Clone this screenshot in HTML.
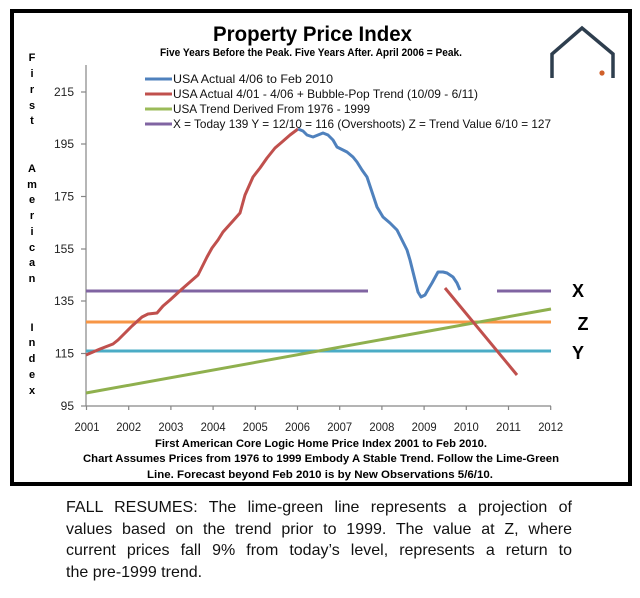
<!DOCTYPE html>
<html><head><meta charset="utf-8">
<style>
html,body{margin:0;padding:0;background:#fff;}
body{width:640px;height:598px;position:relative;overflow:hidden;}
svg{position:absolute;left:0;top:0;}
.p{position:absolute;left:66px;width:506px;font-family:"Liberation Sans",sans-serif;font-size:16px;color:#111;text-align:justify;text-align-last:justify;line-height:20px;}
</style></head>
<body>
<svg width="640" height="598" viewBox="0 0 640 598" xmlns="http://www.w3.org/2000/svg" font-family="Liberation Sans, sans-serif">
  <rect x="12" y="11" width="618" height="473" fill="#fff" stroke="#000" stroke-width="4"/>
  <!-- title -->
  <text x="312.5" y="41" font-size="21" font-weight="bold" text-anchor="middle" textLength="199" lengthAdjust="spacingAndGlyphs" fill="#000">Property Price Index</text>
  <text x="311" y="56" font-size="11" font-weight="bold" text-anchor="middle" textLength="302" lengthAdjust="spacingAndGlyphs" fill="#000">Five Years Before the Peak. Five Years After. April 2006 = Peak.</text>
  <!-- house icon -->
  <polyline points="552,78 552,54 582,28 613,54 613,78" fill="none" stroke="#2e3e4e" stroke-width="3.5" stroke-linejoin="miter"/>
  <circle cx="602" cy="73" r="2.6" fill="#d0602a"/>
  <!-- vertical label -->
  <g font-size="11" font-weight="bold" text-anchor="middle" fill="#000">
    <text x="32" y="61">F</text><text x="32" y="77">i</text><text x="32" y="93">r</text><text x="32" y="109">s</text><text x="32" y="124">t</text>
    <text x="32" y="172">A</text><text x="32" y="188">m</text><text x="32" y="203">e</text><text x="32" y="219">r</text><text x="32" y="235">i</text><text x="32" y="251">c</text><text x="32" y="266">a</text><text x="32" y="282">n</text>
    <text x="32" y="331">I</text><text x="32" y="346">n</text><text x="32" y="362">d</text><text x="32" y="378">e</text><text x="32" y="394">x</text>
  </g>
  <!-- axes -->
  <g stroke="#868686" stroke-width="1.2">
    <line x1="86" y1="65" x2="86" y2="406"/>
    <line x1="86" y1="406" x2="551" y2="406"/>
    <line x1="81" y1="92" x2="86" y2="92"/>
    <line x1="81" y1="144" x2="86" y2="144"/>
    <line x1="81" y1="196.5" x2="86" y2="196.5"/>
    <line x1="81" y1="249" x2="86" y2="249"/>
    <line x1="81" y1="301" x2="86" y2="301"/>
    <line x1="81" y1="353.5" x2="86" y2="353.5"/>
    <line x1="81" y1="406" x2="86" y2="406"/>
    <line x1="86.5" y1="406" x2="86.5" y2="410"/>
    <line x1="128.7" y1="406" x2="128.7" y2="410"/>
    <line x1="170.9" y1="406" x2="170.9" y2="410"/>
    <line x1="213.1" y1="406" x2="213.1" y2="410"/>
    <line x1="255.3" y1="406" x2="255.3" y2="410"/>
    <line x1="297.5" y1="406" x2="297.5" y2="410"/>
    <line x1="339.7" y1="406" x2="339.7" y2="410"/>
    <line x1="381.9" y1="406" x2="381.9" y2="410"/>
    <line x1="424.1" y1="406" x2="424.1" y2="410"/>
    <line x1="466.3" y1="406" x2="466.3" y2="410"/>
    <line x1="508.5" y1="406" x2="508.5" y2="410"/>
    <line x1="550.7" y1="406" x2="550.7" y2="410"/>
  </g>
  <g font-size="12" text-anchor="end" fill="#222">
    <text x="74" y="96">215</text>
    <text x="74" y="148">195</text>
    <text x="74" y="200.5">175</text>
    <text x="74" y="253">155</text>
    <text x="74" y="305">135</text>
    <text x="74" y="357.5">115</text>
    <text x="74" y="410">95</text>
  </g>
  <g font-size="12" text-anchor="middle" fill="#222">
    <text x="87" y="431" textLength="25" lengthAdjust="spacingAndGlyphs">2001</text>
    <text x="128.7" y="431" textLength="25" lengthAdjust="spacingAndGlyphs">2002</text>
    <text x="170.9" y="431" textLength="25" lengthAdjust="spacingAndGlyphs">2003</text>
    <text x="213.1" y="431" textLength="25" lengthAdjust="spacingAndGlyphs">2004</text>
    <text x="255.3" y="431" textLength="25" lengthAdjust="spacingAndGlyphs">2005</text>
    <text x="297.5" y="431" textLength="25" lengthAdjust="spacingAndGlyphs">2006</text>
    <text x="339.7" y="431" textLength="25" lengthAdjust="spacingAndGlyphs">2007</text>
    <text x="381.9" y="431" textLength="25" lengthAdjust="spacingAndGlyphs">2008</text>
    <text x="424.1" y="431" textLength="25" lengthAdjust="spacingAndGlyphs">2009</text>
    <text x="466.3" y="431" textLength="25" lengthAdjust="spacingAndGlyphs">2010</text>
    <text x="508.5" y="431" textLength="25" lengthAdjust="spacingAndGlyphs">2011</text>
    <text x="550.7" y="431" textLength="25" lengthAdjust="spacingAndGlyphs">2012</text>
  </g>
  <!-- captions -->
  <g font-size="11" font-weight="bold" text-anchor="middle" fill="#000">
    <text x="321" y="447" textLength="332" lengthAdjust="spacingAndGlyphs">First American Core Logic Home Price Index 2001 to Feb 2010.</text>
    <text x="321" y="462" textLength="476" lengthAdjust="spacingAndGlyphs">Chart Assumes Prices from 1976 to 1999 Embody A Stable Trend. Follow the Lime-Green</text>
    <text x="320" y="478" textLength="346" lengthAdjust="spacingAndGlyphs">Line. Forecast beyond Feb 2010 is by New Observations 5/6/10.</text>
  </g>
  <!-- horizontal reference lines -->
  <g stroke-width="3" fill="none" stroke-linecap="butt">
    <line x1="86" y1="351" x2="551" y2="351" stroke="#4BACC6"/>
    <line x1="86" y1="322" x2="551" y2="322" stroke="#F79646"/>
    <line x1="86" y1="291" x2="368" y2="291" stroke="#8064A2"/>
    <line x1="497" y1="291" x2="551" y2="291" stroke="#8064A2"/>
    <line x1="86" y1="393" x2="551" y2="309" stroke="#8FB04E"/>
  </g>
  <!-- red series -->
  <polyline fill="none" stroke="#C0504D" stroke-width="3" stroke-linejoin="round" points="86,355 100,349 113,344 118,340 123,335 132,326 142,317 148,314 157,313 163,306 170,300 182,289 190,282 198,275 203,265 207,257 212,248 218,240 223,232 232,222 240,213 245,195 253,177 260,168 267,158 275,148 282,142 290,135 298,129"/>
  <line x1="445" y1="288" x2="517" y2="375" stroke="#C0504D" stroke-width="3"/>
  <!-- blue series -->
  <polyline fill="none" stroke="#4F81BD" stroke-width="3" stroke-linejoin="round" points="298,129 303,131 307,135 313,137 318,135 323,133 328,135 333,140 337,147 347,152 353,157 357,162 362,170 367,177 372,192 377,207 383,217 390,223 397,230 402,240 407,250 410,260 413,272 415,280 418,292 421,297 425,295 429,288 432,283 438,272 443,272 447,273 453,277 457,283 460,290"/>
  <!-- legend -->
  <g stroke-width="3">
    <line x1="145" y1="79" x2="172" y2="79" stroke="#4F81BD"/>
    <line x1="145" y1="94" x2="172" y2="94" stroke="#C0504D"/>
    <line x1="145" y1="109" x2="172" y2="109" stroke="#9BBB59"/>
    <line x1="145" y1="124" x2="172" y2="124" stroke="#8064A2"/>
  </g>
  <g font-size="12" fill="#111">
    <text x="173" y="83" textLength="160" lengthAdjust="spacingAndGlyphs">USA Actual 4/06 to Feb 2010</text>
    <text x="173" y="98" textLength="305" lengthAdjust="spacingAndGlyphs">USA Actual 4/01 - 4/06 + Bubble-Pop Trend (10/09 - 6/11)</text>
    <text x="173" y="113" textLength="197" lengthAdjust="spacingAndGlyphs">USA Trend Derived From 1976 - 1999</text>
    <text x="173" y="128" textLength="378" lengthAdjust="spacingAndGlyphs">X = Today 139 Y = 12/10 = 116 (Overshoots) Z = Trend Value 6/10 = 127</text>
  </g>
  <!-- X Z Y labels -->
  <g font-size="18" font-weight="bold" text-anchor="middle" fill="#000">
    <text x="578" y="297">X</text>
    <text x="583" y="330">Z</text>
    <text x="578" y="359">Y</text>
  </g>
</svg>
<div class="p" style="top:498px;">FALL RESUMES: The lime-green line represents a projection of</div>
<div class="p" style="top:520px;">values based on the trend prior to 1999. The value at Z, where</div>
<div class="p" style="top:541px;">current prices fall 9% from today’s level, represents a return to</div>
<div class="p" style="top:563px;text-align:left;text-align-last:left;">the pre-1999 trend.</div>
</body></html>
